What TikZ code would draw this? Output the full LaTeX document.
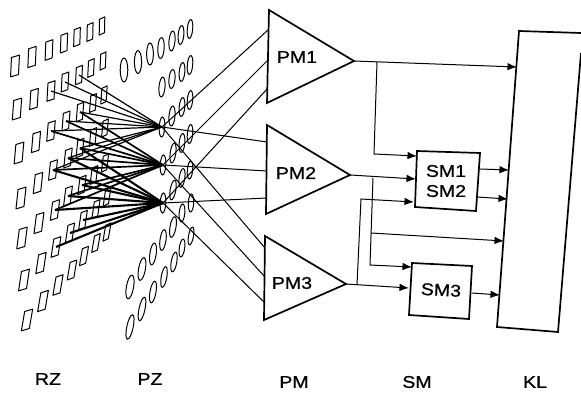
\documentclass[tikz,border=0pt]{standalone}
\usepackage{fontspec}
\setmainfont[FakeStretch=1.15,FakeBold=0.8]{Liberation Sans}
\usetikzlibrary{arrows.meta}
\tikzset{
  box/.style={line width=1.7pt,line join=miter},
  wire/.style={line width=1pt},
  arr/.style={wire,-{Latex[length=9.5pt,width=7.5pt]}},
  lbl/.style={font=\fontsize{17}{20}\selectfont,inner sep=0pt},
  cell/.style={line width=1pt,line join=round},
  lens/.style={line width=1pt},
  link/.style={line width=1pt}
}
\begin{document}
\begin{tikzpicture}[x=1pt,y=-1pt]
\useasboundingbox (0,0) rectangle (581,393);
% receptor cells
\foreach \r/\c/\x/\y in {
1/1/15/66,1/2/32/57,1/3/49/50,1/4/64/43,1/5/77/37,1/6/90/32,1/7/102/26,
2/1/17/109,2/2/34/99,2/3/51/91,2/4/65/82,2/5/79/75,2/6/91/68,2/7/103/61,
3/1/19/153,3/2/36/142,3/3/51/131,3/4/66/121,3/5/80/112,3/6/93/103,3/7/104/95,
4/1/21/198,4/2/38/183,4/3/53/170,4/4/68/158,4/5/80/148,4/6/93/137,4/7/105/128,
5/1/22/238,5/2/39/223,5/3/55/210,5/4/68/196,5/5/82/185,5/6/94/175,5/7/105/163,
6/1/24/280,6/2/41/263,6/3/56/247,6/4/70/233,6/5/83/220,6/6/96/209,6/7/107/197,
7/1/27/320,7/2/43/301,7/3/58/285,7/4/72/270,7/5/84/256,7/6/96/243,7/7/107/232}{
  \pgfmathsetmacro{\w}{4.2-0.22*\c}
  \pgfmathsetmacro{\h}{10-0.3*\c}
  \pgfmathsetmacro{\s}{0.3+0.2*\r-0.05*\c}
  \pgfmathsetmacro{\k}{1.2}
  \coordinate (r\r\c) at (\x,\y);
  \draw[cell,shift={(\x,\y)}] (-\w-\s,\h+\k) -- (\w-\s,\h-\k) -- (\w+\s,-\h-\k) -- (-\w+\s,-\h+\k) -- cycle;
}
% lenses
\foreach \n/\x/\y/\a/\b/\t in {
a1/124/70/3.8/12/0,a2/138/62/3.6/11.5/0,a3/150/54/3.4/11/0,a4/161/48/3.2/10.5/-3,a5/172/41/3/10/-5,a6/181/35/2.8/9.5/-5,a7/190/29/2.7/9.5/-5,
b1/162/87/3/10/-5,b2/172/79/3/9.5/-5,b3/182/72/2.8/9.5/-5,b4/190/65/2.7/9.5/-5,
A/162/127/2.8/10/-3,c2/172/116/3/10/-5,c3/182/107/2.8/9.5/-5,c4/190/100/2.7/9.5/-5,
B/163/165/2.8/10/-3,d2/173/153/2.8/10/-8,d3/182/143/2.8/9.5/-5,d4/190/134/2.7/9.5/-5,
C/163/203/2.8/10/-3,e2/173/190/2.8/10/-10,e3/182/178/2.8/9.5/-8,e4/190/170/2.7/9/-5,
f1/130/287/3.6/12/-10,f2/142/269/3.4/11.5/-10,f3/153/254/3.2/11/-8,f4/163/240/3/10.5/-8,f5/173/227/3/10.5/-10,f6/182/213/2.8/9/-5,f7/191/203/2.7/9/-3,
g1/130/327/3.2/12.5/-12,g2/142/309/3/12/-12,g3/153/292/3/11/-10,g4/164/277/2.8/10.5/-10,g5/174/262/2.8/10/-10,g6/182/248/2.7/9/-8,g7/191/236/2.5/9/-10}{
  \coordinate (\n) at (\x,\y);
  \draw[lens,shift={(\x,\y)},rotate=\t] (0,0) ellipse[x radius=\a,y radius=\b];
}
% fans from receptor cells to lens hubs
\foreach \hub/\first/\wd in {A/2/1.2,B/3/1.7,C/4/2.1}{
  \foreach \dr in {0,1,2}{
    \foreach \c in {3,4,5}{
      \pgfmathtruncatemacro{\rr}{\first+\dr}
      \draw[line width=\wd pt] (r\rr\c) -- (\hub);
    }
  }
}
% PM triangles
\coordinate (p1a) at (269,10); \coordinate (p1t) at (354,61); \coordinate (p1b) at (267,103);
\coordinate (p2a) at (267,125); \coordinate (p2t) at (350,175); \coordinate (p2b) at (266,214);
\coordinate (p3a) at (265,236); \coordinate (p3t) at (346,284); \coordinate (p3b) at (264,320);
% lens to PM links
\coordinate (i11) at (268,30); \coordinate (i12) at (268,60); \coordinate (i13) at (268,88);
\coordinate (i21) at (267,142); \coordinate (i22) at (267,171); \coordinate (i23) at (267,198);
\coordinate (i31) at (265,248); \coordinate (i32) at (265,277); \coordinate (i33) at (265,303);
\draw[link] (A) -- (i11); \draw[link] (B) -- (i12); \draw[link] (C) -- (i13);
\draw[link] (A) -- (i21); \draw[link] (B) -- (i22); \draw[link] (C) -- (i23);
\draw[link] (A) -- (i31); \draw[link] (B) -- (i32); \draw[link] (C) -- (i33);
\draw[box,fill=white] (p1a) -- (p1t) -- (p1b) -- cycle;
\draw[box,fill=white] (p2a) -- (p2t) -- (p2b) -- cycle;
\draw[box,fill=white] (p3a) -- (p3t) -- (p3b) -- cycle;
\node[lbl] (pm1) at (297,57) {PM1};
\node[lbl] (pm2) at (296,173) {PM2};
\node[lbl] (pm3) at (292,283) {PM3};
% SM boxes
\draw[box] (417,151) -- (480,153) -- (476,211) -- (415,207) -- cycle;
\draw[box] (412,263) -- (472,266) -- (469,319) -- (409,315) -- cycle;
\node[lbl] (sm1) at (446,171) {SM1};
\node[lbl] (sm2) at (446,191) {SM2};
\node[lbl,rotate=-3] (sm3) at (441,290) {SM3};
% KL
\draw[box] (581,33) -- (519,31) -- (497,327) -- (558,332) -- (581,53);
% connectors
\coordinate (k1) at (517,67); \coordinate (k2) at (509,170); \coordinate (k3) at (508,199);
\coordinate (k4) at (504,241); \coordinate (k5) at (500,295);
\coordinate (j1) at (377,62); \coordinate (j1b) at (374,154); \coordinate (s1) at (417,156);
\coordinate (j2) at (373,178); \coordinate (j2b) at (370,265); \coordinate (s2) at (416,179);
\coordinate (j2c) at (371,233); \coordinate (s3a) at (412,267);
\coordinate (j3) at (357,285); \coordinate (j3b) at (361,199); \coordinate (s2b) at (414,202);
\coordinate (s3b) at (409,288);
\coordinate (o1) at (480,169); \coordinate (o2) at (477,197); \coordinate (o3) at (472,293);
\draw[arr] (p1t) -- (k1);
\draw[arr] (j1) -- (j1b) -- (s1);
\draw[arr] (p2t) -- (s2);
\draw[arr] (j2) -- (j2b) -- (s3a);
\draw[arr] (j2c) -- (k4);
\draw[arr] (p3t) -- (s3b);
\draw[arr] (j3) -- (j3b) -- (s2b);
\draw[arr] (o1) -- (k2);
\draw[arr] (o2) -- (k3);
\draw[arr] (o3) -- (k5);
% bottom labels
\node[lbl] (lrz) at (48,379) {RZ};
\node[lbl] (lpz) at (150,379) {PZ};
\node[lbl] (lpm) at (294,382) {PM};
\node[lbl] (lsm) at (417,382) {SM};
\node[lbl] (lkl) at (535,382) {KL};
\end{tikzpicture}
\end{document}
